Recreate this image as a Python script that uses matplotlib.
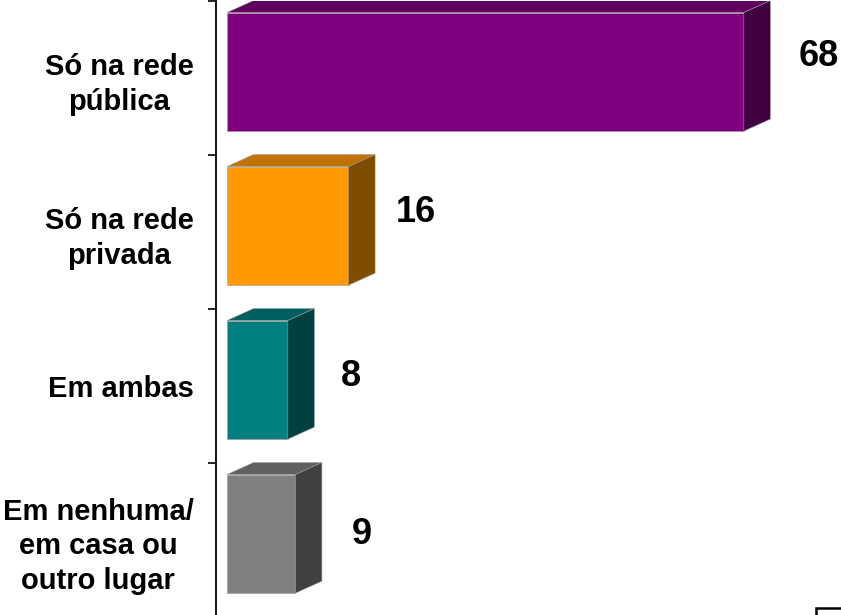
import matplotlib
matplotlib.use("Agg")
import matplotlib.pyplot as plt
from matplotlib.patches import Polygon, Rectangle

# data
categories = ["Só na rede\npública", "Só na rede\nprivada", "Em ambas",
              "Em nenhuma/\nem casa ou\noutro lugar"]
values = [68, 16, 8, 9]
front_colors = ["#800080", "#FF9900", "#008080", "#808080"]
top_colors = ["#600060", "#C07300", "#006060", "#606060"]
side_colors = ["#400040", "#804D00", "#004040", "#404040"]

plt.rcParams['font.family'] = ['Liberation Sans', 'DejaVu Sans']

W, H = 841, 615
fig = plt.figure(figsize=(W / 100, H / 100), dpi=100)

# axes: left spine at x=216px, spans y 1..617px
px_per_unit = 7.6
ax_left, ax_top, ax_bot = 216, 1, 617
ax = fig.add_axes([ax_left / W, (H - ax_bot) / H, (W - ax_left) / W, (ax_bot - ax_top) / H])
x0 = -11 / px_per_unit
ax.set_xlim(x0, x0 + (W - ax_left) / px_per_unit)
n = len(categories)
ax.set_ylim(n - 0.5, -0.5)
unit_px = (ax_bot - ax_top) / n

dx = 26.5 / px_per_unit      # 3d depth, data units
dy = 12 / unit_px
f_top, f_bot = 0.425, 0.345  # front face extent about category centre

for i, v in enumerate(values):
    t, b = i - f_top, i + f_bot
    front = Polygon([(0, t), (v, t), (v, b), (0, b)], closed=True,
                    facecolor=front_colors[i], edgecolor="#9a9a9a", lw=0.4)
    top = Polygon([(0, t), (dx, t - dy), (v + dx, t - dy), (v, t)], closed=True,
                  facecolor=top_colors[i], edgecolor="#9a9a9a", lw=0.4)
    side = Polygon([(v, t), (v + dx, t - dy), (v + dx, b - dy), (v, b)], closed=True,
                   facecolor=side_colors[i], edgecolor="#9a9a9a", lw=0.4)
    for p in (front, top, side):
        ax.add_patch(p)

# value labels (pixel nudges relative to side face end / category centre)
label_nudge = [(28, 22), (21, 20), (27, 9), (30, 5)]
for i, v in enumerate(values):
    ax.annotate(str(v), xy=(v + dx, i), xytext=label_nudge[i], textcoords="offset pixels",
                ha="left", va="center", fontsize=26, fontweight="bold", color="black",
                annotation_clip=False)

# axes styling
for s in ["top", "right", "bottom"]:
    ax.spines[s].set_visible(False)
ax.spines["left"].set_linewidth(1.3)
ax.set_xticks([])
ax.set_yticks([k - 0.5 for k in range(n + 1)])
ax.set_yticklabels([])
ax.tick_params(axis="y", which="major", direction="out", length=6, width=1.2)
ax.set_yticks(range(n), minor=True)
ax.set_yticklabels(categories, minor=True, fontsize=21, fontweight="bold")
ax.tick_params(axis="y", which="minor", length=0, pad=16)
for lab in ax.get_yticklabels(minor=True):
    lab.set_multialignment("center")
    lab.set_linespacing(1.3)

# fragment of a box at bottom-right corner
fig.patches.append(Rectangle((816 / W, -0.05), 0.1, (H - 608) / H + 0.05,
                             transform=fig.transFigure, fill=False,
                             edgecolor="black", lw=1.8))

fig.savefig("out.png", dpi=100)
